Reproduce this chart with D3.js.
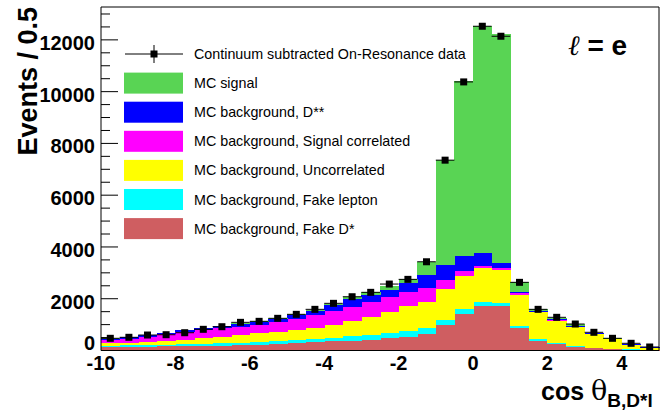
<!DOCTYPE html>
<html><head><meta charset="utf-8">
<script src="https://cdn.jsdelivr.net/npm/d3@7"></script>
<style>
html,body{margin:0;padding:0;background:#fff;}
svg{display:block;font-family:"Liberation Sans",Arial,Helvetica,sans-serif;}
</style></head>
<body>
<svg id="c" width="661" height="410"></svg>
<script>
// ---- data ----
const binWidth = 0.5;
const binLows = [-10,-9.5,-9,-8.5,-8,-7.5,-7,-6.5,-6,-5.5,-5,-4.5,-4,-3.5,-3,-2.5,-2,-1.5,-1,-0.5,0,0.5,1,1.5,2,2.5,3,3.5,4,4.5];
const fakeD   = [135,140,150,155,161,172,186,200,215,250,290,325,354,385,420,470,540,625,984,1409,1718,1718,857,378,239,147,85,58,30,20];
const fakeLep = [50,58,62,70,77,85,90,95,100,100,120,125,146,160,180,190,220,232,193,181,154,104,89,66,39,38,23,12,10,8];
const uncorr  = [93,102,118,140,167,208,258,305,348,380,390,420,500,605,700,840,940,1027,1185,1286,1301,1285,1196,1030,861,710,529,362,172,80];
const sigCorr = [127,160,205,260,309,320,322,320,322,358,429,500,530,530,570,550,550,516,359,204,101,66,66,26,21,25,13,13,13,7];
const dss     = [50,45,51,55,65,75,90,110,128,142,151,167,226,295,280,300,350,514,579,568,478,193,62,36,44,30,20,15,15,10];
const signal  = [10,7,9,10,11,10,9,15,12,13,16,23,44,85,110,150,180,506,4053,6752,8768,8878,386,54,36,60,20,10,15,15];
const dataVals= [471,510,598,610,687,818,919,1088,1127,1243,1397,1590,1822,2077,2247,2567,2748,3428,7353,10376,12526,12140,2633,1590,1282,1023,703,471,278,135];
const yTicks = [0,2000,4000,6000,8000,10000,12000];
const xTicks = [-10,-8,-6,-4,-2,0,2,4];

const seriesKeys = ["fakeD","fakeLep","uncorr","sigCorr","dss","signal"];
const seriesData = {fakeD, fakeLep, uncorr, sigCorr, dss, signal};
const colors = {fakeD:"rgb(207,94,97)", fakeLep:"#00ffff", uncorr:"#ffff00", sigCorr:"#ff00ff", dss:"#0000ff", signal:"rgb(89,212,84)"};
const legendEntries = [
  {key:"data", label:"Continuum subtracted On-Resonance data"},
  {key:"signal", label:"MC signal"},
  {key:"dss", label:"MC background, D**"},
  {key:"sigCorr", label:"MC background, Signal correlated"},
  {key:"uncorr", label:"MC background, Uncorrelated"},
  {key:"fakeLep", label:"MC background, Fake lepton"},
  {key:"fakeD", label:"MC background, Fake D*"}
];

// ---- layout ----
const L = 101, R = 659, T = 7, B = 350.5;
const svg = d3.select("#c");
const x = d3.scaleLinear().domain([-10,5]).range([L,R]);
const y = d3.scaleLinear().domain([0,13270]).range([B,T]);

const rows = binLows.map((lo,i)=>{const o={lo}; seriesKeys.forEach(k=>o[k]=seriesData[k][i]); return o;});
const stack = d3.stack().keys(seriesKeys)(rows);

const gBars = svg.append("g").attr("shape-rendering","crispEdges");
stack.forEach(layer=>{
  gBars.selectAll(null).data(layer).enter().append("rect")
    .attr("x", d=>x(d.data.lo))
    .attr("width", d=>x(d.data.lo+binWidth)-x(d.data.lo)+0.5)
    .attr("y", d=>y(d[1]))
    .attr("height", d=>Math.max(0,y(d[0])-y(d[1])))
    .attr("fill", colors[layer.key]);
});

// data points
const gD = svg.append("g");
binLows.forEach((lo,i)=>{
  const cx = x(lo+binWidth/2), cy = y(dataVals[i]);
  gD.append("line").attr("x1",x(lo)).attr("x2",x(lo+binWidth)).attr("y1",cy).attr("y2",cy).attr("stroke","#000").attr("stroke-width",1);
  gD.append("rect").attr("x",cx-3.5).attr("y",cy-3.5).attr("width",7).attr("height",7).attr("fill","#000");
});

// frame
svg.append("path").attr("d",`M${L},${B}V${T}H${R}V${B}H${L}`).attr("fill","none").attr("stroke","#000").attr("stroke-width",1);

// y axis ticks (inward)
const gY = svg.append("g");
d3.range(0,13001,500).forEach(v=>{
  const major = v%2000===0;
  gY.append("line").attr("x1",L).attr("x2",L+(major?17:9)).attr("y1",y(v)).attr("y2",y(v)).attr("stroke","#000").attr("stroke-width",1);
});
yTicks.forEach(v=>{
  gY.append("text").attr("x",95).attr("y",y(v)+ (v===0? -1:10)).attr("text-anchor","end")
    .attr("font-size",20).attr("font-weight","bold").text(v);
});
// x labels
xTicks.forEach(v=>{
  svg.append("text").attr("x",x(v)).attr("y",370).attr("text-anchor","middle")
    .attr("font-size",20).attr("font-weight","bold").text(v);
});

// axis titles
svg.append("text").attr("transform","translate(37,7) rotate(-90)").attr("text-anchor","end")
  .attr("font-size",27).attr("font-weight","bold").text("Events / 0.5");
const xt = svg.append("text").attr("x",541).attr("y",400).attr("font-weight","bold");
xt.append("tspan").attr("font-size",25).text("cos ");
xt.append("tspan").attr("font-size",27).attr("font-weight","normal").attr("font-family","'DejaVu Serif',serif").text("θ");
xt.append("tspan").attr("font-size",19).attr("dy",7).text("B,D*l");

// l = e
svg.append("text").attr("x",568).attr("y",55).attr("font-size",28).attr("font-weight","bold")
  .html('<tspan font-style="italic" font-weight="normal" font-family="\'DejaVu Serif\',serif">ℓ</tspan> = e');

// legend
const lg = svg.append("g");
legendEntries.forEach((e,i)=>{
  const cy = 54 + i*29.1;
  if(e.key==="data"){
    lg.append("line").attr("x1",125).attr("x2",183).attr("y1",cy).attr("y2",cy).attr("stroke","#000");
    lg.append("line").attr("x1",154).attr("x2",154).attr("y1",cy-9).attr("y2",cy+9).attr("stroke","#000");
    lg.append("rect").attr("x",150.5).attr("y",cy-3.5).attr("width",7).attr("height",7).attr("fill","#000");
  } else {
    lg.append("rect").attr("x",124).attr("y",cy-10.5).attr("width",59).attr("height",21).attr("fill",colors[e.key]);
  }
  lg.append("text").attr("x",194).attr("y",cy+5).attr("font-size",14.3).text(e.label);
});
</script>
</body></html>
